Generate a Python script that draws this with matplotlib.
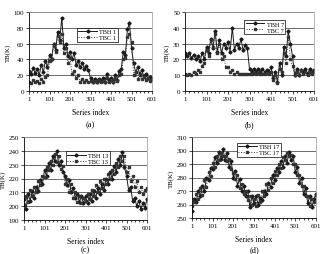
import numpy as np
import matplotlib.pyplot as plt
from matplotlib.ticker import MultipleLocator, FixedLocator

plt.rcParams['font.family'] = ['Liberation Serif', 'DejaVu Serif']

# series index sampled every 10 steps (1..601)
idx = np.arange(1, 602, 10)

# (a) channel 1
tbh_1 = [25, 21, 29, 23, 28, 20, 33, 24, 38, 30,
         45, 40, 60, 52, 75, 65, 93, 55, 60, 44,
         50, 40, 48, 33, 38, 30, 36, 28, 32, 26,
         16, 12, 15, 12, 15, 13, 16, 12, 22, 14,
         16, 12, 20, 14, 25, 28, 50, 45, 78, 86,
         55, 35, 24, 30, 22, 26, 19, 22, 16, 18, 15]
tbc_1 = [12, 10, 14, 11, 13, 10, 15, 12, 18, 20,
         38, 40, 58, 50, 70, 62, 72, 48, 55, 35,
         42, 22, 25, 16, 20, 12, 15, 11, 14, 11,
         13, 11, 13, 12, 14, 11, 13, 12, 16, 12,
         14, 11, 15, 13, 20, 22, 40, 42, 68, 72,
         62, 20, 24, 15, 20, 15, 18, 14, 16, 13, 15]

# (b) channel 7
tbh_7 = [24, 22, 24, 21, 23, 20, 22, 19, 24, 20,
         28, 24, 33, 27, 38, 25, 32, 24, 30, 27,
         31, 25, 40, 26, 30, 27, 33, 26, 29, 27,
         14, 12, 14, 12, 14, 12, 14, 12, 13, 12,
         15, 8, 12, 6, 18, 10, 28, 22, 38, 30,
         22, 10, 14, 10, 13, 12, 14, 11, 14, 12, 13]
tbc_7 = [11, 10, 11, 10, 12, 11, 13, 12, 16, 18,
         26, 22, 32, 28, 36, 24, 30, 20, 22, 15,
         15, 12, 13, 11, 12, 10.5, 11, 10.5, 11, 10.5,
         11, 10.5, 11.5, 11, 11.5, 10.5, 11, 11, 11.5, 10.5,
         12, 7, 10, 5, 14, 12, 24, 18, 34, 20,
         16, 10, 12, 10, 13, 11, 12, 10, 12, 11, 12]

# (c) channel 13
tbh_13 = [205, 198, 209, 204, 211, 206, 214, 211, 219, 216,
          226, 222, 231, 226, 236, 233, 240, 230, 233, 225,
          222, 215, 219, 210, 213, 206, 209, 203, 207, 202,
          207, 202, 209, 204, 211, 206, 213, 209, 216, 212,
          220, 216, 225, 220, 229, 225, 234, 230, 239, 228,
          222, 212, 214, 204, 206, 200, 204, 198, 202, 199, 205]
tbc_13 = [201, 207, 203, 212, 207, 214, 210, 218, 215, 222,
          221, 228, 226, 233, 230, 238, 232, 236, 227, 229,
          216, 220, 210, 216, 206, 210, 203, 207, 202, 206,
          204, 209, 205, 212, 207, 215, 210, 218, 213, 220,
          216, 223, 220, 226, 223, 231, 228, 236, 233, 236,
          225, 228, 218, 222, 214, 218, 210, 214, 209, 212, 213]

# (d) channel 17
tbh_17 = [255, 264, 262, 270, 266, 274, 270, 280, 278, 287,
          286, 295, 291, 299, 294, 301, 293, 298, 288, 292,
          280, 285, 274, 279, 270, 274, 266, 270, 258, 266,
          261, 266, 260, 265, 263, 270, 268, 276, 273, 282,
          278, 287, 284, 292, 288, 296, 291, 299, 293, 296,
          284, 288, 276, 280, 268, 272, 261, 266, 258, 264, 268]
tbc_17 = [259, 262, 268, 264, 272, 267, 278, 273, 284, 281,
          291, 288, 296, 293, 298, 296, 296, 292, 294, 286,
          283, 279, 282, 272, 275, 268, 270, 263, 266, 260,
          264, 259, 267, 262, 270, 266, 275, 271, 280, 276,
          285, 282, 290, 287, 295, 293, 298, 296, 297, 290,
          290, 282, 282, 274, 274, 266, 266, 259, 264, 262, 267]

panels = [
    ('(a)', 'TBH 1', 'TBC 1', tbh_1, tbc_1, (0, 100), 20),
    ('(b)', 'TBH 7', 'TBC 7', tbh_7, tbc_7, (0, 50), 10),
    ('(c)', 'TBH 13', 'TBC 13', tbh_13, tbc_13, (190, 250), 10),
    ('(d)', 'TBH 17', 'TBC 17', tbh_17, tbc_17, (250, 310), 10),
]

W, H = 322, 255
# axes boxes in pixels: left, top, right, bottom
boxes = [(29, 13, 152, 92), (185, 13, 314, 92), (24, 138, 147, 221), (192, 138, 316, 219)]
legend_pos = [(0.39, 0.80), (0.46, 0.90), (0.34, 0.83), (0.36, 0.93)]
tag_y = [125, 125, 250, 250]

fig = plt.figure(figsize=(W / 100, H / 100), dpi=100)

for (tag, lh, lc, yh, yc, ylim, step), (l, t, r, b), lp, ty in zip(panels, boxes, legend_pos, tag_y):
    ax = fig.add_axes([l / W, 1 - b / H, (r - l) / W, (b - t) / H])
    ax.plot(idx, yh, '-', color='#1a1a1a', lw=0.7, marker='D', ms=1.6, label=lh)
    ax.plot(idx, yc, ':', color='#333333', lw=0.7, marker='s', ms=1.6, label=lc)
    ax.set_xlim(1, 601)
    ax.set_ylim(*ylim)
    ax.xaxis.set_major_locator(FixedLocator(np.arange(1, 602, 100)))
    ax.xaxis.set_minor_locator(FixedLocator(np.arange(21, 601, 20)))
    ax.yaxis.set_major_locator(MultipleLocator(step))
    ax.yaxis.grid(True, color='#555555', lw=0.6)
    ax.set_axisbelow(True)
    ax.tick_params(labelsize=5, length=2, width=0.5, pad=1.5)
    ax.tick_params(which='minor', length=1.5, width=0.5)
    for s in ['top', 'right']:
        ax.spines[s].set_color('#999999')
        ax.spines[s].set_linewidth(0.5)
    for s in ['left', 'bottom']:
        ax.spines[s].set_linewidth(0.6)
    ax.set_ylabel('TB(K)', fontsize=5, labelpad=2)
    ax.set_xlabel('Series index', fontsize=5.5, labelpad=5)
    leg = ax.legend(loc='upper left', bbox_to_anchor=lp, fontsize=4.5, frameon=True,
                    fancybox=False, framealpha=1, edgecolor='black', borderpad=0.2,
                    handlelength=3, labelspacing=0.1, handletextpad=0.4, borderaxespad=0)
    leg.get_frame().set_linewidth(0.5)
    # panel tag below the axis label
    fig.text((l + r) / 2 / W, 1 - ty / H, tag, ha='center', va='center', fontsize=6)

fig.savefig('out.png', dpi=100)
